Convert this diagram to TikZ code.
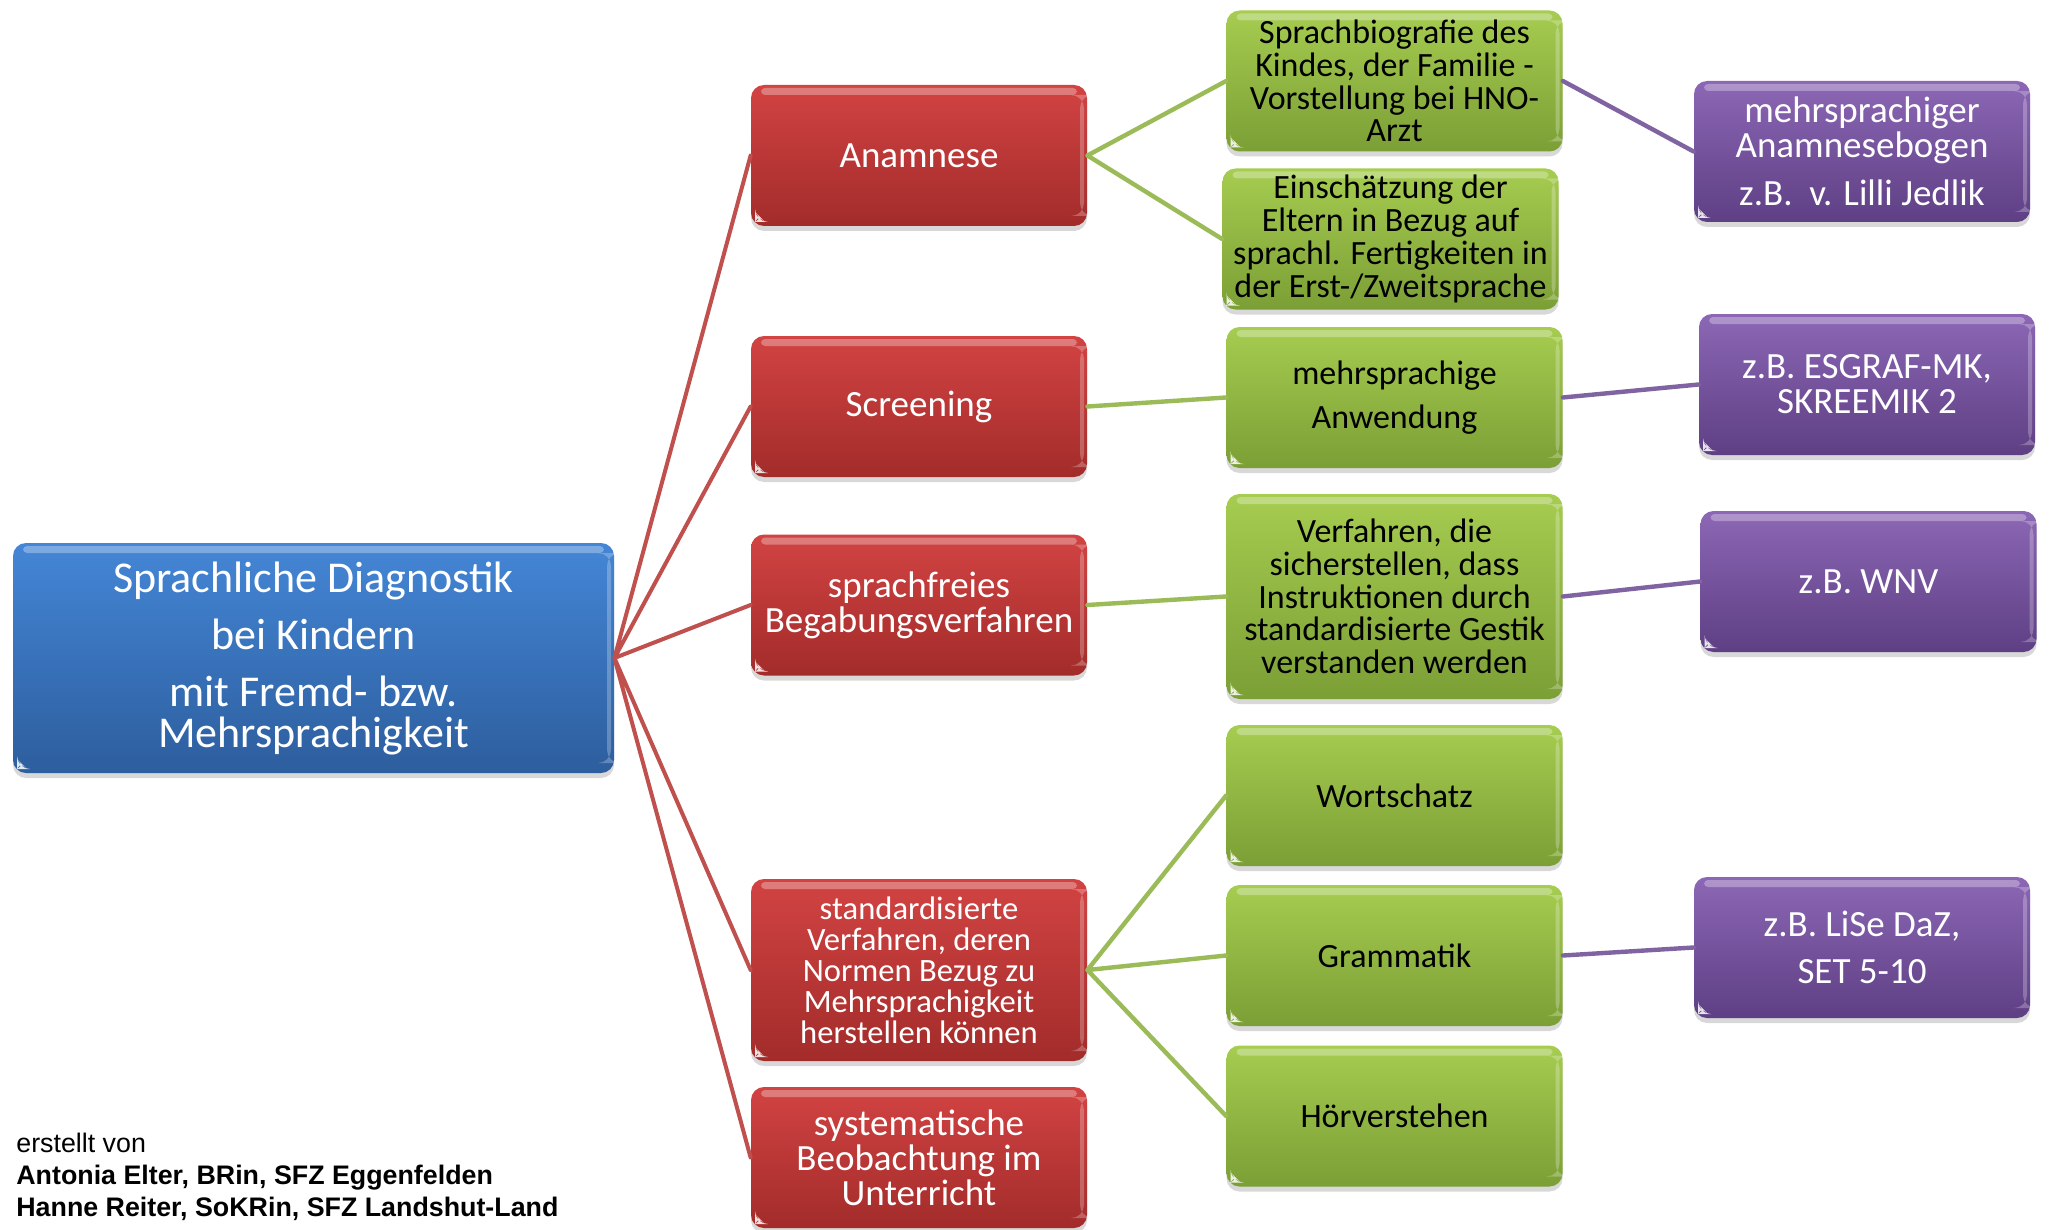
\documentclass[tikz,border=0pt]{standalone}
\usepackage{fontspec}
\setmainfont{Carlito}
\newfontfamily\footfont{Liberation Sans}
\usetikzlibrary{shadows}
\definecolor{blueT}{HTML}{4486D6}
\definecolor{blueB}{HTML}{2D5E9E}
\definecolor{redT}{HTML}{D24343}
\definecolor{redB}{HTML}{A22C2A}
\definecolor{greenT}{HTML}{A6CC50}
\definecolor{greenB}{HTML}{7B9F35}
\definecolor{purpleT}{HTML}{8C67B5}
\definecolor{purpleB}{HTML}{5E3F84}
\definecolor{redL}{HTML}{C0504D}
\definecolor{greenL}{HTML}{9BBB59}
\definecolor{purpleL}{HTML}{8064A2}

\begin{document}
\begin{tikzpicture}[x=0.5pt,y=-0.5pt,line cap=round,line join=round,
  box/.style={rounded corners=6.5pt,align=center,inner sep=2pt,
    minimum width=168pt,minimum height=70.5pt,
    drop shadow={opacity=.3,shadow xshift=0pt,shadow yshift=-2.5pt},
    path picture={
      \fill[white,opacity=.3,rounded corners=2pt]
        ([xshift=5pt,yshift=-1.5pt]path picture bounding box.north west) rectangle
        ([xshift=-5pt,yshift=-5pt]path picture bounding box.north east);
      \fill[white,opacity=.25]
        ([xshift=-3.5pt,yshift=-5pt]path picture bounding box.north east) rectangle
        ([xshift=-1.5pt,yshift=5pt]path picture bounding box.south east);
      \fill[white,opacity=.85]
        ([xshift=2pt,yshift=2pt]path picture bounding box.south west) -- ++(5pt,0pt) -- ++(-5pt,5pt) -- cycle;}},
  rootbox/.style={box,top color=blueT,bottom color=blueB,text=white,
    minimum width=300.5pt,minimum height=115pt,font=\fontsize{22}{20.5}\selectfont},
  redbox/.style={box,top color=redT,bottom color=redB,text=white,font=\fontsize{18.5}{17.5}\selectfont},
  greenbox/.style={box,top color=greenT,bottom color=greenB,text=black,font=\fontsize{17}{16.4}\selectfont},
  purplebox/.style={box,top color=purpleT,bottom color=purpleB,text=white,font=\fontsize{18.5}{17.5}\selectfont},
  redline/.style={draw=redL,line width=2pt},
  greenline/.style={draw=greenL,line width=2.2pt},
  purpleline/.style={draw=purpleL,line width=2.2pt}]
\useasboundingbox[fill=white] (0,0) rectangle (2049,1230);
% root
\node[rootbox] (root) at (313.5,658) {Sprachliche Diagnostik\\[8pt]bei Kindern\\[8pt]mit Fremd- bzw.\\Mehrsprachigkeit};
% red
\node[redbox] (anam) at (919,155.5) {Anamnese};
\node[redbox] (scr) at (919,406.5) {Screening};
\node[redbox] (sfrei) at (919,605) {sprachfreies\\Begabungsverfahren};
\node[redbox,minimum height=91pt,font=\fontsize{16.3}{15.5}\selectfont] (std) at (919,970) {standardisierte\\Verfahren, deren\\Normen Bezug zu\\Mehrsprachigkeit\\herstellen können};
\node[redbox] (syst) at (919,1157.5) {systematische\\Beobachtung im\\Unterricht};
% green
\node[greenbox] (biogr) at (1394.5,81) {Sprachbiografie des\\Kindes, der Familie -\\Vorstellung bei HNO-\\Arzt};
\node[greenbox] (eltern) at (1390.5,239) {Einschätzung der\\Eltern in Bezug auf\\sprachl. Fertigkeiten in\\der Erst-/Zweitsprache};
\node[greenbox] (anw) at (1394.5,397.5) {mehrsprachige\\[5.6pt]Anwendung};
\node[greenbox,minimum height=102.5pt] (gestik) at (1394.5,596.5) {Verfahren, die\\sicherstellen, dass\\Instruktionen durch\\standardisierte Gestik\\verstanden werden};
\node[greenbox] (wort) at (1394.5,795.5) {Wortschatz};
\node[greenbox] (gramm) at (1394.5,955.5) {Grammatik};
\node[greenbox] (hoer) at (1394.5,1116) {Hörverstehen};
% purple
\node[purplebox] (bogen) at (1862,151.5) {mehrsprachiger\\Anamnesebogen\\[6.5pt]z.B.\ \ v. Lilli Jedlik};
\node[purplebox] (esgraf) at (1867,384.5) {z.B. ESGRAF-MK,\\SKREEMIK 2};
\node[purplebox] (wnv) at (1868.5,581.5) {z.B. WNV};
\node[purplebox] (lise) at (1862,947.5) {z.B. LiSe DaZ,\\[6pt]SET 5-10};
% connectors
\draw[redline]
  (root.east) -- (anam.west)
  (root.east) -- (scr.west)
  (root.east) -- (sfrei.west)
  (root.east) -- (std.west)
  (root.east) -- (syst.west);
\draw[greenline]
  (anam.east) -- (biogr.west)
  (anam.east) -- (eltern.west)
  (scr.east) -- (anw.west)
  (sfrei.east) -- (gestik.west)
  (std.east) -- (wort.west)
  (std.east) -- (gramm.west)
  (std.east) -- (hoer.west);
\draw[purpleline]
  (biogr.east) -- (bogen.west)
  (anw.east) -- (esgraf.west)
  (gestik.east) -- (wnv.west)
  (gramm.east) -- (lise.west);
% credits
\node[anchor=north west,align=left,inner sep=0pt,font=\footfont\fontsize{13.4}{16}\selectfont] (credit) at (16,1133)
  {erstellt von\\\textbf{Antonia Elter, BRin, SFZ Eggenfelden}\\\textbf{Hanne Reiter, SoKRin, SFZ Landshut-Land}};
\end{tikzpicture}
\end{document}
